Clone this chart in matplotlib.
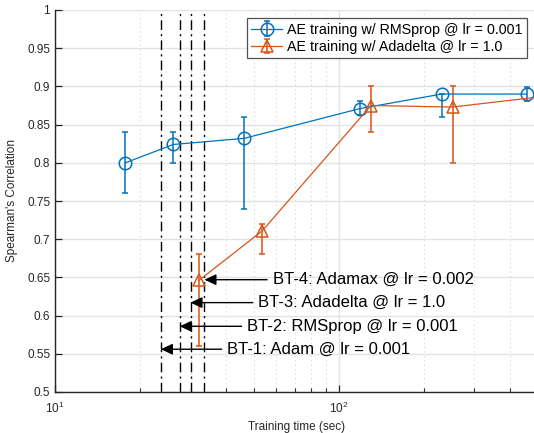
import matplotlib
matplotlib.use("Agg")
import matplotlib.pyplot as plt
from matplotlib.ticker import FixedLocator, LogLocator, NullFormatter

plt.rcParams['font.family'] = ['Liberation Sans', 'DejaVu Sans']

# ---- data ----
rms_time = [17.7, 26.1, 46.4, 118.6, 230.0, 458.0]
rms_corr = [0.800, 0.824, 0.832, 0.871, 0.890, 0.890]
rms_lo = [0.760, 0.800, 0.740, 0.863, 0.860, 0.881]
rms_hi = [0.840, 0.840, 0.860, 0.881, 0.890, 0.899]

ada_time = [32.1, 53.7, 129.6, 251.0, 530.0]
ada_corr = [0.646, 0.711, 0.875, 0.873, 0.887]
ada_lo = [0.560, 0.680, 0.840, 0.800, 0.880]
ada_hi = [0.680, 0.720, 0.900, 0.900, 0.894]

bt_time = [23.6, 27.5, 30.0, 33.6]
bt_corr = [0.556, 0.586, 0.617, 0.647]
bt_labels = ['BT-1: Adam @ lr = 0.001', 'BT-2: RMSprop @ lr = 0.001',
             'BT-3: Adadelta @ lr = 1.0', 'BT-4: Adamax @ lr = 0.002']
bt_text_x = [40.4, 47.5, 52.0, 58.4]

legend_labels = ['AE training w/ RMSprop @ lr = 0.001', 'AE training w/ Adadelta @ lr = 1.0']
yticks = [0.5, 0.55, 0.6, 0.65, 0.7, 0.75, 0.8, 0.85, 0.9, 0.95, 1.0]
ytick_labels = ['0.5', '0.55', '0.6', '0.65', '0.7', '0.75', '0.8', '0.85', '0.9', '0.95', '1']

BLUE = '#0072BD'
ORANGE = '#D95319'
AX = '#262626'

W, H = 534, 433
fig = plt.figure(figsize=(W / 100, H / 100), dpi=100)
left, right, top, bottom = 55, 537.5, 10, 392
ax = fig.add_axes([left / W, (H - bottom) / H, (right - left) / W, (bottom - top) / H])

ax.set_xscale('log')
ax.set_xlim(10, 500)
ax.set_ylim(0.5, 1.0)

# grid
ax.set_yticks(yticks)
ax.set_yticklabels(ytick_labels)
ax.xaxis.set_major_locator(FixedLocator([10, 100]))
ax.xaxis.set_minor_locator(LogLocator(base=10, subs=range(2, 10)))
ax.xaxis.set_minor_formatter(NullFormatter())
ax.grid(True, which='major', axis='both', color='#e3e3e3', lw=1.0, zorder=0)
ax.grid(True, which='minor', axis='x', color='#d2d2d2', lw=0.8, ls=(0, (1, 3)), zorder=0)
ax.set_axisbelow(True)

# vertical BT lines
for t in bt_time:
    ax.axvline(t, color='black', lw=1.0, ls=(0, (7, 3, 1.5, 3)), zorder=2)

# series
e1 = ax.errorbar(rms_time, rms_corr,
                 yerr=[[c - l for c, l in zip(rms_corr, rms_lo)], [h - c for c, h in zip(rms_corr, rms_hi)]],
                 color=BLUE, lw=0.9, marker='o', ms=9.0, mfc='none', mec=BLUE, mew=1.1,
                 elinewidth=1.1, capsize=2.3, capthick=1.1, label=legend_labels[0], zorder=3)
e2 = ax.errorbar(ada_time, ada_corr,
                 yerr=[[c - l for c, l in zip(ada_corr, ada_lo)], [h - c for c, h in zip(ada_corr, ada_hi)]],
                 color=ORANGE, lw=0.9, marker='^', ms=9.0, mfc='none', mec=ORANGE, mew=1.1,
                 elinewidth=1.1, capsize=2.3, capthick=1.1, label=legend_labels[1], zorder=3)

# annotations
for t, y, lab, tx in zip(bt_time, bt_corr, bt_labels, bt_text_x):
    ax.annotate(lab, xy=(t, y), xytext=(tx, y), ha='left', va='center', fontsize=12, color='black',
                arrowprops=dict(arrowstyle='-|>,head_length=0.7,head_width=0.33', color='black',
                                lw=1.0, shrinkA=2, shrinkB=0, mutation_scale=10), zorder=5)

# axes styling
for s in ['top', 'right']:
    ax.spines[s].set_visible(False)
for s in ['left', 'bottom']:
    ax.spines[s].set_color(AX)
    ax.spines[s].set_linewidth(1.0)
ax.tick_params(axis='both', which='major', direction='in', length=5, width=0.9, colors=AX,
               labelsize=8.5, labelcolor=AX)
ax.tick_params(axis='x', which='minor', direction='in', length=3, width=0.8, colors=AX)
ax.tick_params(axis='x', which='major', pad=6)

ax.set_xlabel('Training time (sec)', fontsize=8.5, color=AX)
ax.set_ylabel("Spearman's Correlation", fontsize=8.5, color=AX)
ax.xaxis.set_label_coords((297 - left) / (right - left), -(421 - bottom) / (bottom - top))
ax.yaxis.set_label_coords((18 - left) / (right - left), 0.5)

leg = ax.legend(loc='upper left', bbox_to_anchor=((246.7 - left) / (right - left), (bottom - 18.3) / (bottom - top)),
                borderaxespad=0, fontsize=10.3, frameon=True, fancybox=False, handlelength=2.2,
                handletextpad=0.35, borderpad=0.3, labelspacing=0.25)
leg.get_frame().set_edgecolor(AX)
leg.get_frame().set_linewidth(0.9)
leg.set_zorder(6)

fig.savefig('out.png', dpi=100)
